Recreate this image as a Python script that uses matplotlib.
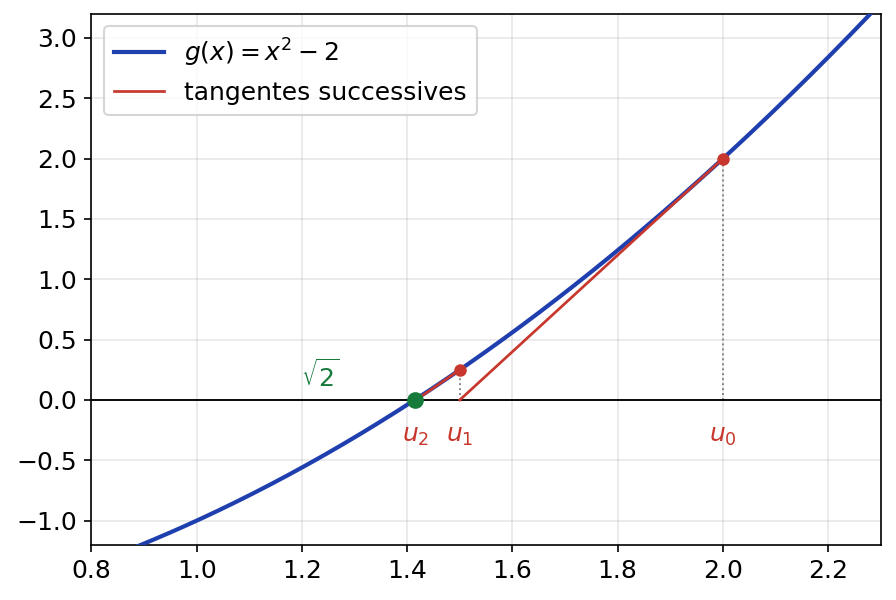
import matplotlib
matplotlib.use('Agg')
import matplotlib.pyplot as plt
import numpy as np

# Newton iterates for x^2 - 2
u = [2.0, 1.5, 17 / 12]
root = np.sqrt(2)

blue = '#1f3fae'
red = '#c8372d'
green = '#157a3a'

fig, ax = plt.subplots(figsize=(896 / 150, 4), dpi=150)
fig.subplots_adjust(left=0.102, right=0.983, top=0.977, bottom=0.092)

x = np.linspace(0.8, 2.3, 400)
ax.plot(x, x**2 - 2, color=blue, lw=2, label=r'$g(x) = x^2 - 2$', zorder=3)

# tangents
for i in range(2):
    ax.plot([u[i], u[i + 1]], [u[i]**2 - 2, 0], color=red, lw=1.3,
            label='tangentes successives' if i == 0 else None, zorder=4)
    ax.plot([u[i], u[i]], [0, u[i]**2 - 2], ls=':', color='gray', lw=0.9)
    ax.plot(u[i], u[i]**2 - 2, 'o', color=red, ms=5, zorder=5)

ax.axhline(0, color='black', lw=0.9)
ax.plot(root, 0, 'o', color=green, ms=7, zorder=6)
ax.text(1.235, 0.2, r'$\sqrt{2}$', color=green, fontsize=12, ha='center', va='center')

for i, xv in enumerate(u):
    ax.text(xv, -0.3, f'$u_{i}$', color=red, fontsize=12, ha='center', va='center')

ax.set_xlim(0.8, 2.3)
ax.set_ylim(-1.2, 3.2)
ax.set_xticks(np.arange(0.8, 2.21, 0.2))
ax.set_yticks(np.arange(-1.0, 3.01, 0.5))
ax.tick_params(labelsize=12)
ax.grid(True, alpha=0.3)
ax.legend(loc='upper left', fontsize=12)

plt.savefig('out.png', dpi=150)
